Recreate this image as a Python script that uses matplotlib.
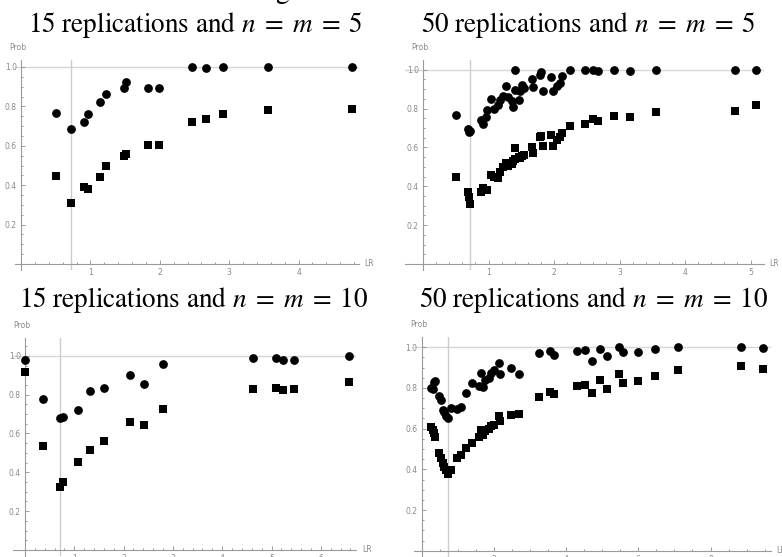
import matplotlib.pyplot as plt
from matplotlib.transforms import Bbox, TransformedBbox
import numpy as np

plt.rcParams['mathtext.fontset'] = 'stix'

# --- data: LR, prob (circles), prob (squares) ---
lr_15_5 = [0.51, 0.72, 0.91, 0.965, 1.14, 1.22, 1.484, 1.513, 1.83, 1.984,
           2.469, 2.67, 2.915, 3.564, 4.769]
circ_15_5 = [0.769, 0.683, 0.720, 0.759, 0.820, 0.864, 0.891, 0.923, 0.891, 0.891,
             0.998, 0.993, 0.998, 0.998, 0.998]
sq_15_5 = [0.448, 0.311, 0.392, 0.380, 0.443, 0.499, 0.548, 0.558, 0.605, 0.605,
           0.722, 0.737, 0.762, 0.784, 0.788]

lr_50_5 = [0.51, 0.68, 0.70, 0.72, 0.89, 0.91, 0.97, 0.965, 1.04, 1.09,
           1.14, 1.18, 1.22, 1.27, 1.30, 1.36, 1.38, 1.40, 1.41, 1.47,
           1.484, 1.513, 1.54, 1.66, 1.68, 1.78, 1.80, 1.83, 1.95, 1.984,
           2.04, 2.09, 2.12, 2.25, 2.469, 2.59, 2.67, 2.915, 3.16, 3.564,
           4.769, 5.09]
circ_50_5 = [0.769, 0.695, 0.680, 0.683, 0.740, 0.720, 0.793, 0.759, 0.848, 0.797,
             0.820, 0.845, 0.864, 0.917, 0.862, 0.840, 0.810, 0.996, 0.893, 0.845,
             0.891, 0.923, 0.905, 0.951, 0.910, 0.973, 0.990, 0.891, 0.965, 0.891,
             0.917, 0.930, 0.970, 0.997, 0.998, 0.997, 0.993, 0.998, 0.993, 0.998,
             0.998, 0.997]
sq_50_5 = [0.448, 0.370, 0.347, 0.311, 0.372, 0.392, 0.383, 0.380, 0.460, 0.450,
           0.443, 0.472, 0.499, 0.518, 0.506, 0.515, 0.530, 0.596, 0.540, 0.550,
           0.548, 0.558, 0.561, 0.604, 0.573, 0.652, 0.660, 0.605, 0.664, 0.605,
           0.639, 0.652, 0.676, 0.711, 0.722, 0.745, 0.737, 0.762, 0.759, 0.784,
           0.788, 0.819]

lr_15_10 = [0.01, 0.37, 0.71, 0.78, 1.08, 1.32, 1.61, 2.12, 2.41, 2.80,
            4.62, 5.10, 5.23, 5.45, 6.57]
circ_15_10 = [0.977, 0.776, 0.678, 0.687, 0.721, 0.821, 0.833, 0.900, 0.853, 0.956,
              0.991, 0.991, 0.980, 0.977, 0.997]
sq_15_10 = [0.918, 0.537, 0.326, 0.352, 0.455, 0.517, 0.563, 0.661, 0.644, 0.728,
            0.829, 0.834, 0.824, 0.831, 0.867]

lr_50_10 = [0.26, 0.30, 0.34, 0.38, 0.48, 0.53, 0.58, 0.62, 0.67, 0.72,
            0.81, 0.97, 1.09, 1.23, 1.38, 1.60, 1.64, 1.71, 1.76, 1.87,
            1.92, 2.01, 2.15, 2.16, 2.47, 2.70, 3.26, 3.56, 3.67, 4.30,
            4.53, 4.71, 4.94, 5.13, 5.47, 5.58, 6.00, 6.47, 7.11, 8.84, 9.46]
circ_50_10 = [0.800, 0.795, 0.828, 0.835, 0.760, 0.740, 0.690, 0.680, 0.660, 0.650,
              0.700, 0.695, 0.708, 0.774, 0.826, 0.810, 0.872, 0.807, 0.839, 0.848,
              0.875, 0.889, 0.921, 0.869, 0.898, 0.867, 0.970, 0.982, 0.961, 0.984,
              0.987, 0.934, 0.993, 0.957, 1.000, 0.975, 0.975, 0.990, 1.000, 1.000, 0.995]
sq_50_10 = [0.610, 0.595, 0.580, 0.560, 0.480, 0.455, 0.430, 0.413, 0.397, 0.378,
            0.397, 0.454, 0.470, 0.503, 0.531, 0.560, 0.593, 0.569, 0.590, 0.600,
            0.612, 0.620, 0.660, 0.640, 0.667, 0.672, 0.757, 0.782, 0.770, 0.810,
            0.815, 0.777, 0.839, 0.797, 0.869, 0.826, 0.834, 0.859, 0.889, 0.908, 0.893]

titles = [r"15 replications and $n\;=\;m\;=\;5$", r"50 replications and $n\;=\;m\;=\;5$",
          r"15 replications and $n\;=\;m\;=\;10$", r"50 replications and $n\;=\;m\;=\;10$"]

W, H = 782, 557
fig = plt.figure(figsize=(W / 100, H / 100), dpi=100)

AX_COL = '#9a9a9a'
TXT_COL = '#8a8a8a'


def panel(lr, circ, sq, ox, oy, sx, sy, xlim, ylim, xmajor, xminor):
    # ox, oy: pixel of the data origin (oy from top); sx, sy: pixels per unit
    left = ox + sx * xlim[0]
    right = ox + sx * xlim[1]
    top = oy - sy * ylim[1]
    bottom = oy - sy * ylim[0]
    ax = fig.add_axes([left / W, 1 - bottom / H, (right - left) / W, (bottom - top) / H])
    ax.set_xlim(xlim)
    ax.set_ylim(ylim)
    ax.patch.set_alpha(0)

    for s in ['top', 'right']:
        ax.spines[s].set_visible(False)
    for s in ['left', 'bottom']:
        ax.spines[s].set_position(('data', 0))
        ax.spines[s].set_color(AX_COL)
        ax.spines[s].set_linewidth(0.8)

    ax.set_xticks(np.arange(xmajor, xlim[1], xmajor))
    ax.set_xticks(np.arange(xminor, xlim[1], xminor), minor=True)
    ax.set_yticks([0.2, 0.4, 0.6, 0.8, 1.0])
    ax.set_yticks(np.arange(0.05, ylim[1], 0.05), minor=True)
    ax.set_xticklabels(["%g" % v for v in np.arange(xmajor, xlim[1], xmajor)])
    ax.set_yticklabels(["0.2", "0.4", "0.6", "0.8", "1.0"])
    ax.tick_params(which='both', direction='in', color=AX_COL, width=0.7,
                   labelsize=5.5, labelcolor=TXT_COL)
    ax.tick_params(which='major', length=3.2, pad=3)
    ax.tick_params(which='minor', length=1.6)

    # grid line at 1 and vertical line at the LR of the minimum
    ax.axhline(1.0, color='#d6d6d6', lw=1.0, zorder=0)
    ax.axvline(lr[int(np.argmin(sq))], color='#cccccc', lw=1.0, zorder=0)

    ax.scatter(lr, circ, s=6.3 ** 2, marker='o', color='black', linewidths=0, zorder=3,
               clip_on=False)
    ax.scatter(lr, sq, s=5.6 ** 2, marker='s', color='black', linewidths=0, zorder=3,
               clip_on=False)

    ax.annotate("Prob", xy=(0, ylim[1]), xytext=(-2, 6), textcoords='offset points',
                ha='center', va='bottom', fontsize=5.5, color=TXT_COL,
                annotation_clip=False)
    ax.annotate("LR", xy=(xlim[1], 0), xytext=(4, 0), textcoords='offset points',
                ha='left', va='center', fontsize=5.5, color=TXT_COL,
                annotation_clip=False)
    return ax


ax1 = panel(lr_15_5, circ_15_5, sq_15_5, 21, 264, 69.4, 197,
            (-0.09, 4.87), (-0.03, 1.035), 1, 0.2)
ax2 = panel(lr_50_5, circ_50_5, sq_50_5, 423, 264, 65.5, 194.3,
            (-0.28, 5.2), (-0.03, 1.05), 1, 0.2)
ax3 = panel(lr_15_10, circ_15_10, sq_15_10, 25, 550, 49.3, 194.2,
            (-0.24, 6.72), (-0.03, 1.09), 1, 0.2)
ax4 = panel(lr_50_10, circ_50_10, sq_50_10, 421.7, 550.7, 36.1, 203.4,
            (-0.21, 9.67), (-0.03, 1.05), 2, 0.5)

# the right-hand bottom panel image cuts its y labels on the left
clip = TransformedBbox(Bbox.from_extents(401 / W, 0, 1, 1), fig.transFigure)
for lab in ax4.get_yticklabels():
    lab.set_clip_box(clip)
    lab.set_clip_on(True)

# --- titles ---
fig.text(459 / W, 1 + 2.5 / H, "Figure 1: Simulated values of the LR", ha='center',
         va='baseline', fontsize=20, family='STIXGeneral')
fig.text(195 / W, 1 - 31.5 / H, titles[0], ha='center', va='baseline', fontsize=19.5,
         family='STIXGeneral')
fig.text(588 / W, 1 - 31.5 / H, titles[1], ha='center', va='baseline', fontsize=19.5,
         family='STIXGeneral')
fig.text(194 / W, 1 - 307 / H, titles[2], ha='center', va='baseline', fontsize=19.5,
         family='STIXGeneral')
fig.text(594 / W, 1 - 307 / H, titles[3], ha='center', va='baseline', fontsize=19.5,
         family='STIXGeneral')

fig.savefig("out.png", dpi=100)
